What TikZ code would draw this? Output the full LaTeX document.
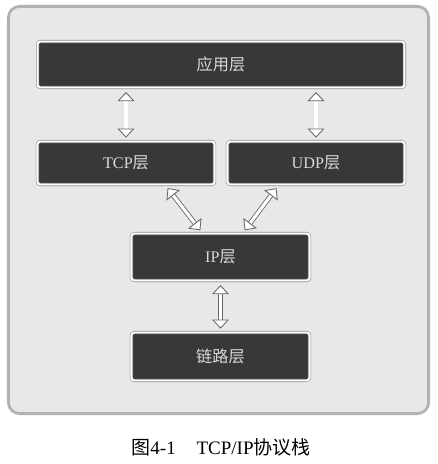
\documentclass[tikz,border=0pt]{standalone}
\usepackage{fontspec}
\setmainfont{Liberation Serif}
\newfontfamily\cjk{Noto Sans CJK SC}
\usetikzlibrary{arrows.meta}

\begin{document}
\begin{tikzpicture}[x=0.025cm,y=-0.025cm]
\tikzstyle{layer}=[draw=black!45, line width=0.4pt, double=white, double distance=1.4pt, fill=black!78, rounded corners=2pt, text=white!85!black, font=\fontsize{11.5}{13}\selectfont, inner sep=0pt];
\tikzstyle{link}=[draw=black!60, line width=0.6pt, double=white, double distance=2.2pt, {Triangle[fill=white,line width=0.6pt,length=6.5pt,width=12pt]}-{Triangle[fill=white,line width=0.6pt,length=6.5pt,width=12pt]}, shorten <=3pt, shorten >=2.5pt];
\useasboundingbox (0,0) rectangle (437,464);
\draw [draw=black!30, line width=2pt, fill=black!9, rounded corners=8pt] (8.4,6.4) rectangle (428.6,413.6);
\node [layer, minimum width=9.17cm, minimum height=1.15cm] (app) at (221,64.5) {\cjk 应用层};
\node [layer, minimum width=4.425cm, minimum height=1.075cm] (tcp) at (126,163) {TCP{\cjk 层}};
\node [layer, minimum width=4.425cm, minimum height=1.075cm] (udp) at (316,163) {UDP{\cjk 层}};
\node [layer, minimum width=4.45cm, minimum height=1.175cm] (ip) at (220.5,257) {IP{\cjk 层}};
\node [layer, minimum width=4.45cm, minimum height=1.2cm] (lnk) at (220.5,356.5) {\cjk 链路层};
\node (caption) at (221,447) {\fontsize{13.5}{15}\selectfont{\cjk 图}4-1\hspace{1.1em}TCP/IP{\cjk 协议栈}};
\draw [link] (tcp.north |- app.south) -- (tcp.north);
\draw [link] (udp.north |- app.south) -- (udp.north);
\draw [link] ([xshift=0.975cm]tcp.south) -- ([xshift=-0.45cm]ip.north);
\draw [link] ([xshift=-0.925cm]udp.south) -- ([xshift=0.55cm]ip.north);
\draw [link] (ip.south) -- (lnk.north);
\end{tikzpicture}
\end{document}
